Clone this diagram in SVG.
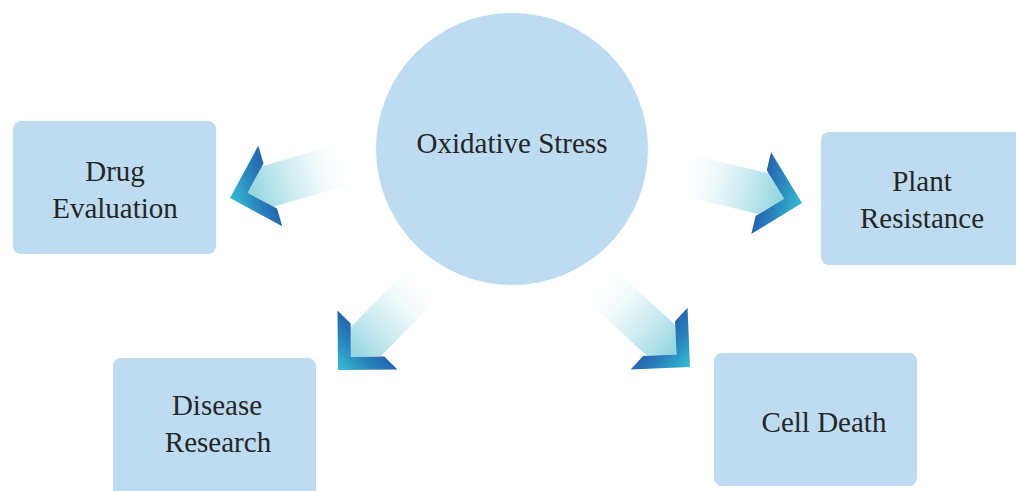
<svg xmlns="http://www.w3.org/2000/svg" width="1016" height="491" viewBox="0 0 1016 491">
  <defs>
    <style>
      .node { fill: #bddcf2; }
      .label { font-family: "Liberation Serif", "DejaVu Serif", serif; font-size: 29px; fill: #262626; text-anchor: middle; }
    </style>
    <!-- arrow geometry is drawn in a local frame: tip at origin, pointing along +x -->
    <linearGradient id="tailFade" gradientUnits="userSpaceOnUse" x1="-125" y1="0" x2="-25" y2="0">
      <stop offset="0" stop-color="#ffffff" stop-opacity="0"/>
      <stop offset="0.45" stop-color="#d6eff4" stop-opacity="0.7"/>
      <stop offset="1" stop-color="#98d7e2"/>
    </linearGradient>
    <linearGradient id="headFill" gradientUnits="userSpaceOnUse" x1="-44" y1="0" x2="0" y2="0">
      <stop offset="0" stop-color="#2461ac"/>
      <stop offset="0.45" stop-color="#2a86be"/>
      <stop offset="1" stop-color="#35bfd2"/>
    </linearGradient>
    <g id="arrow">
      <path d="M-125,-21 L-39.4,-21 L-18.4,0 L-39.4,21 L-125,21 Z" fill="url(#tailFade)"/>
      <path d="M0,0 L-42,-42 L-42,-23.6 L-18.4,0 L-42,23.6 L-42,42 Z" fill="url(#headFill)"/>
    </g>
  </defs>

  <rect width="1016" height="491" fill="#ffffff"/>

  <g id="connectors">
    <use href="#arrow" transform="translate(230,198) rotate(163.4)"/>
    <use href="#arrow" transform="translate(802,203) rotate(13.6)"/>
    <use href="#arrow" transform="translate(338,370) rotate(134.5)"/>
    <use href="#arrow" transform="translate(690,367) rotate(42.6)"/>
  </g>

  <g id="oxidative-stress">
    <circle class="node" cx="512" cy="149" r="136"/>
    <text class="label" x="512" y="153">Oxidative Stress</text>
  </g>

  <g id="drug-evaluation">
    <rect class="node" x="13" y="121" width="203" height="133" rx="8"/>
    <text class="label" x="115" y="181">Drug</text>
    <text class="label" x="115" y="218">Evaluation</text>
  </g>

  <g id="plant-resistance">
    <rect class="node" x="821" y="132" width="203" height="133" rx="8"/>
    <text class="label" x="922" y="191">Plant</text>
    <text class="label" x="922" y="228">Resistance</text>
  </g>

  <g id="disease-research">
    <rect class="node" x="113" y="358" width="203" height="145" rx="8"/>
    <text class="label" x="217" y="415">Disease</text>
    <text class="label" x="218" y="452">Research</text>
  </g>

  <g id="cell-death">
    <rect class="node" x="714" y="353" width="203" height="133" rx="8"/>
    <text class="label" x="824" y="432">Cell Death</text>
  </g>
</svg>
